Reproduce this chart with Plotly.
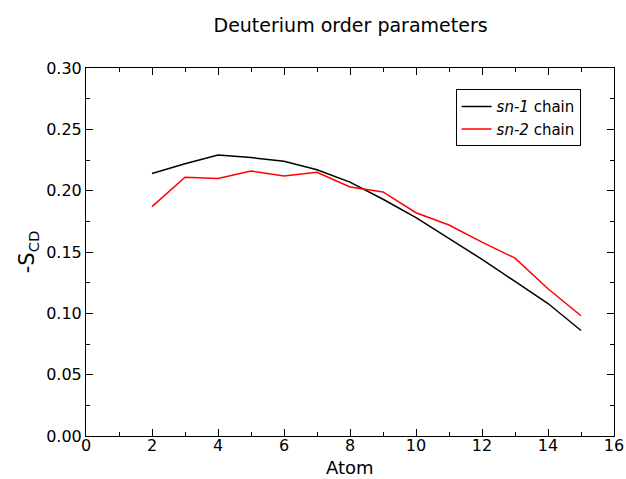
import plotly.graph_objects as go

atoms = [2, 3, 4, 5, 6, 7, 8, 9, 10, 11, 12, 13, 14, 15]
sn1 = [0.214, 0.222, 0.229, 0.227, 0.224, 0.217, 0.207, 0.193, 0.178, 0.161, 0.144, 0.126, 0.108, 0.086]
sn2 = [0.187, 0.211, 0.210, 0.216, 0.212, 0.215, 0.203, 0.199, 0.182, 0.172, 0.158, 0.145, 0.120, 0.098]

fig = go.Figure()
fig.add_trace(go.Scatter(x=atoms, y=sn1, mode="lines", name="<i>sn-1</i> chain",
                         line=dict(color="black", width=1.5)))
fig.add_trace(go.Scatter(x=atoms, y=sn2, mode="lines", name="<i>sn-2</i> chain",
                         line=dict(color="red", width=1.5)))

font = "DejaVu Sans, Liberation Sans, sans-serif"
axis_common = dict(showline=True, linecolor="black", linewidth=1, mirror="allticks",
                   ticks="inside", tickcolor="black", ticklen=7, tickwidth=1,
                   showgrid=False, zeroline=False, automargin=False,
                   tickfont=dict(family=font, size=16, color="black"))

fig.update_xaxes(range=[0, 16], tick0=0, dtick=2, ticklabelstandoff=-5,
                 minor=dict(ticks="inside", dtick=1, ticklen=4, tickcolor="black", showgrid=False),
                 **axis_common)
fig.update_yaxes(range=[0, 0.30], tick0=0, dtick=0.05, tickformat=".2f",
                 minor=dict(ticks="inside", dtick=0.025, ticklen=4, tickcolor="black", showgrid=False),
                 title=dict(text="-S<sub>CD</sub>", font=dict(family=font, size=21, color="black"), standoff=5),
                 **axis_common)

# x axis title as a text annotation for precise placement
fig.add_annotation(text="Atom", xref="paper", yref="paper", x=0.5, y=0,
                   xanchor="center", yanchor="bottom", yshift=-43, showarrow=False,
                   borderpad=0, font=dict(family=font, size=18, color="black"))

fig.update_layout(
    width=626, height=479,
    margin=dict(l=86, r=12, t=68, b=43),
    paper_bgcolor="white", plot_bgcolor="white",
    title=dict(text="Deuterium order parameters", x=0.56, xanchor="center", y=0.948, yanchor="middle",
               font=dict(family=font, size=19, color="black")),
    legend=dict(x=0.70, y=0.865, xanchor="left", yanchor="middle",
                bordercolor="black", borderwidth=1, bgcolor="white",
                font=dict(family=font, size=15, color="black"),
                tracegroupgap=0, itemwidth=30),
    showlegend=True,
)

fig.write_html("out.html", config={"displayModeBar": False},
               post_script="document.body.style.margin='0';")
